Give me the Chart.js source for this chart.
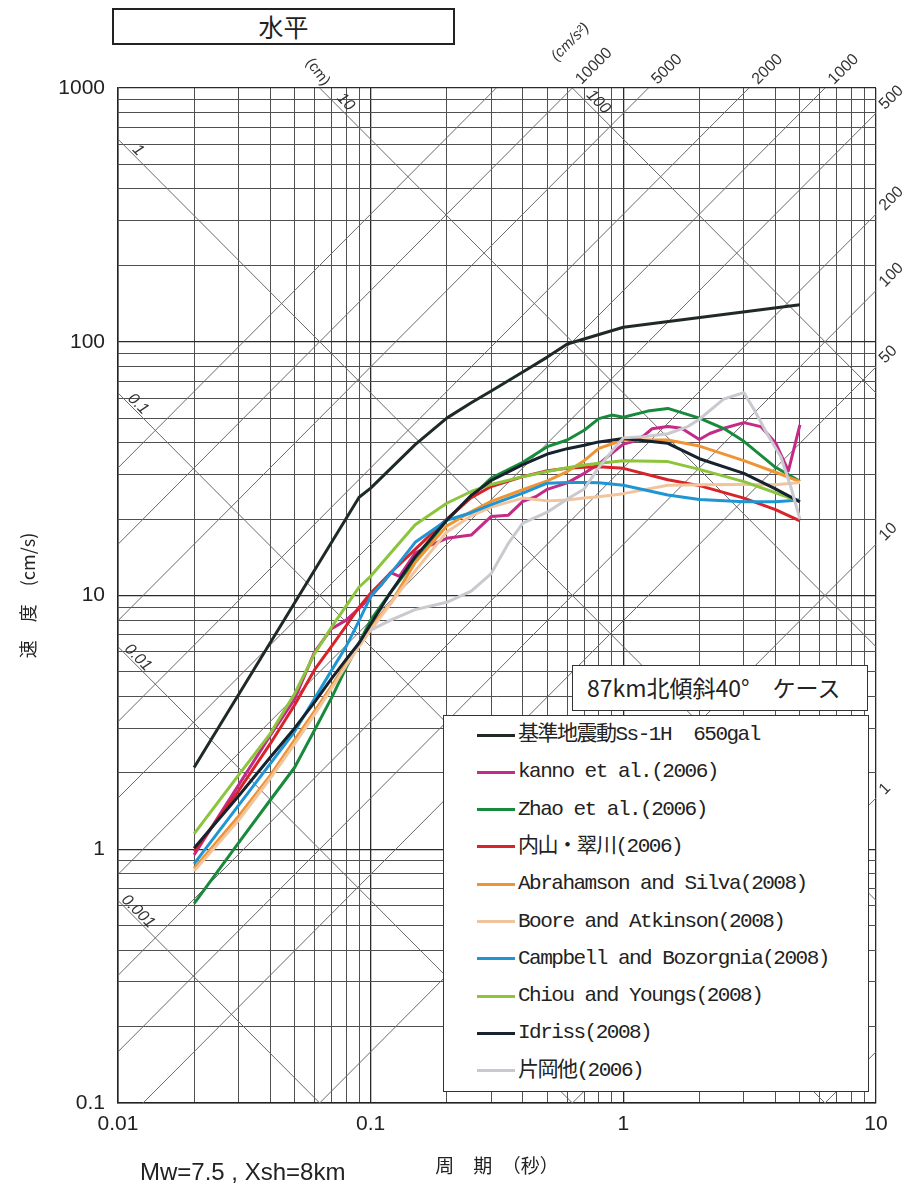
<!DOCTYPE html>
<html>
<head>
<meta charset="utf-8">
<script src="https://cdn.jsdelivr.net/npm/chart.js@4.4.0/dist/chart.umd.min.js"></script>
<style>
  body { margin: 0; background: #fff; }
  #wrap { position: relative; width: 909px; height: 1189px; overflow: hidden; }
  #chart { position: absolute; left: 0; top: 0; background: #fff; }
  .box { position: absolute; background: #fff; box-sizing: border-box; color: #222; }
  #head { left: 112px; top: 8px; width: 343px; height: 37px; border: 2px solid #222;
          font: 25px "Noto Sans CJK JP", sans-serif; text-align: center; line-height: 32px; }
  #caseBox { left: 572px; top: 665px; width: 296px; height: 46px; border: 1.5px solid #333;
             font: 23px "Noto Sans CJK JP", sans-serif; line-height: 42px; padding-left: 14px; white-space: pre; }
  #legend { left: 443px; top: 715px; width: 426px; height: 377px; border: 1.5px solid #333; }
  .row { position: absolute; left: 0; height: 26px; display: flex; align-items: center; }
  .swatch { margin-left: 33px; width: 38px; height: 3px; flex: none; }
  .lbl { margin-left: 3px; font: 21px "Liberation Mono", "Noto Sans CJK JP", monospace; line-height: 26px;
         height: 26px; letter-spacing: -1.5px; white-space: pre; color: #222; }
  #note { position: absolute; left: 140px; top: 1158px;
          font: 24px "Liberation Sans Narrow", "Liberation Sans", sans-serif; color: #222; }
</style>
</head>
<body>
<div id="wrap">
  <canvas id="chart" width="909" height="1189"></canvas>
  <div class="box" id="head">水平</div>
  <div class="box" id="caseBox">87km北傾斜40°　ケース</div>
  <div class="box" id="legend"></div>
  <div id="note">Mw=7.5 , Xsh=8km</div>
</div>
<script>
// 周期 (s) と速度 (cm/s)
const periods = [0.02, 0.03, 0.04, 0.05, 0.06, 0.07, 0.08, 0.09, 0.1, 0.12, 0.15, 0.2, 0.25, 0.3, 0.4, 0.5, 0.6, 0.7, 0.8, 1.0, 1.5, 2, 3, 4, 5];

const ssT = [0.02, 0.09, 0.1, 0.15, 0.2, 0.25, 0.3, 0.4, 0.5, 0.6, 1.0, 5.0];
const ssV = [2.1, 24.4, 26.5, 39.3, 50.0, 57.5, 64.0, 76.0, 87.0, 98.0, 114.0, 140.0];

const kannoT = [0.02, 0.03, 0.04, 0.05, 0.06, 0.07, 0.08, 0.09, 0.1, 0.11, 0.12, 0.13, 0.15, 0.17, 0.2, 0.25, 0.3, 0.35, 0.4, 0.45, 0.5, 0.6, 0.7, 0.8, 0.9, 1.0, 1.1, 1.2, 1.3, 1.5, 1.7, 2.0, 2.2, 2.5, 3.0, 3.5, 4.0, 4.5, 5.0];
const kannoV = [0.95, 1.79, 2.8, 3.9, 6.0, 7.4, 8.0, 8.9, 9.9, 11.0, 12.3, 11.9, 14.7, 15.7, 16.8, 17.3, 20.5, 20.7, 23.5, 24.5, 26.2, 27.8, 30.3, 33.0, 36.3, 39.5, 40.5, 42.5, 45.4, 46.3, 45.6, 41.2, 43.5, 45.6, 48.0, 46.3, 40.0, 31.0, 47.0];

const zhaoT = [0.02, 0.03, 0.04, 0.05, 0.06, 0.07, 0.08, 0.09, 0.1, 0.12, 0.15, 0.2, 0.25, 0.3, 0.4, 0.5, 0.6, 0.7, 0.8, 0.9, 1.0, 1.25, 1.5, 2, 2.5, 3, 4, 5];
const zhaoV = [0.61, 1.06, 1.56, 2.1, 2.95, 3.95, 5.2, 6.5, 8.0, 10.3, 13.8, 19.8, 24.5, 29.0, 33.5, 38.6, 41.0, 44.8, 49.8, 51.4, 50.4, 53.3, 54.6, 50.0, 45.5, 40.5, 32.0, 28.2];

const uchiyamaV = [0.98, 1.7, 2.6, 3.7, 5.1, 6.3, 7.6, 9.0, 10.2, 12.3, 15.2, 20.0, 24.3, 26.9, 29.4, 31.0, 31.7, 32.0, 32.2, 31.7, 28.6, 27.1, 24.2, 21.8, 19.7];
const abrahamsonV = [0.84, 1.35, 1.95, 2.7, 3.5, 4.4, 5.4, 6.5, 7.6, 9.3, 13.5, 18.8, 21.4, 23.5, 26.1, 28.3, 30.8, 34.0, 38.0, 41.0, 41.0, 38.8, 34.0, 30.6, 28.1];
const booreV = [0.82, 1.3, 1.9, 2.6, 3.4, 4.3, 5.3, 6.3, 7.3, 9.3, 12.5, 17.8, 20.6, 22.3, 24.2, 23.6, 23.8, 24.2, 24.5, 25.2, 27.2, 27.3, 27.4, 27.3, 27.9];
const campbellV = [0.875, 1.49, 2.17, 2.91, 3.93, 5.07, 6.3, 7.96, 9.9, 12.2, 16.2, 19.8, 21.2, 22.8, 25.3, 27.7, 27.9, 27.9, 27.8, 27.2, 24.9, 23.9, 23.4, 23.4, 23.8];
const chiouV = [1.15, 1.96, 2.85, 4.1, 5.9, 7.5, 9.1, 10.8, 11.9, 14.7, 19.0, 23.1, 25.7, 27.4, 29.4, 30.8, 31.9, 32.7, 33.2, 34.0, 33.7, 31.4, 28.1, 25.4, 23.5];
const idrissV = [1.01, 1.62, 2.3, 3.0, 3.8, 4.7, 5.6, 6.5, 7.7, 10.3, 14.2, 19.8, 24.8, 28.4, 32.8, 36.1, 37.9, 39.1, 40.3, 41.6, 39.8, 34.6, 30.3, 26.3, 23.4];

const kataokaT = [0.1, 0.12, 0.15, 0.2, 0.25, 0.3, 0.35, 0.4, 0.5, 0.6, 0.7, 0.8, 0.9, 1.0, 1.2, 1.5, 1.8, 2.0, 2.5, 3.0, 3.3, 3.7, 4.2, 4.6, 5.0];
const kataokaV = [7.3, 8.0, 8.8, 9.4, 10.4, 12.2, 16.0, 19.3, 21.3, 24.0, 26.3, 32.0, 37.0, 41.8, 42.2, 43.4, 46.3, 49.5, 59.5, 63.0, 53.8, 43.5, 35.2, 26.8, 20.0];

const seriesLabels = ['基準地震動Ss-1H  650gal', 'kanno et al.(2006)', 'Zhao et al.(2006)', '内山・翠川(2006)',
  'Abrahamson and Silva(2008)', 'Boore and Atkinson(2008)', 'Campbell and Bozorgnia(2008)',
  'Chiou and Youngs(2008)', 'Idriss(2008)', '片岡他(2006)'];
const seriesColors = ['#1f2a26', '#c42a86', '#178a3c', '#d8232a', '#ef9434', '#f2c49c', '#1f96d4', '#8cc43c', '#16222e', '#c9c9cf'];

// 軸の目盛
const xTickLabels = ['0.01', '0.1', '1', '10'];
const yTickLabels = ['0.1', '1', '10', '100', '1000'];

// 三軸線図 (変位 cm, 加速度 cm/s2)
const dispLines = [0.001, 0.01, 0.1, 1, 10, 100];
const dispLeftLabels = ['1', '0.1', '0.01', '0.001'];
const dispTopLabels = ['10', '100'];
const accLines = [0.1, 1, 10, 50, 100, 200, 500, 1000, 2000, 5000, 10000, 20000];
const accTopLabels = ['10000', '5000', '2000', '1000'];
const accRightLabels = ['500', '200', '100', '50', '10', '1'];

const pts = (ts, vs) => ts.map((t, i) => ({ x: t, y: vs[i] }));
const seriesData = [
  pts(ssT, ssV), pts(kannoT, kannoV), pts(zhaoT, zhaoV), pts(periods, uchiyamaV),
  pts(periods, abrahamsonV), pts(periods, booreV), pts(periods, campbellV),
  pts(periods, chiouV), pts(periods, idrissV), pts(kataokaT, kataokaV)
];

const isDecade = v => Math.abs(Math.log10(v) - Math.round(Math.log10(v))) < 1e-6;
const logTicks = (lo, hi) => {
  const out = [];
  for (let e = Math.round(Math.log10(lo)); e < Math.round(Math.log10(hi)); e++) {
    for (let m = 1; m <= 9; m++) out.push({ value: m * Math.pow(10, e) });
  }
  out.push({ value: hi });
  return out;
};
const findLabel = (list, v) => list.find(s => Math.abs(Number(s) - v) / v < 1e-6);

const tripartite = {
  id: 'tripartite',
  beforeDatasetsDraw(chart) {
    const { ctx, chartArea: a, scales: { x, y } } = chart;
    const t0 = x.min, t1 = x.max;
    ctx.save();
    ctx.beginPath();
    ctx.rect(a.left, a.top, a.right - a.left, a.bottom - a.top);
    ctx.clip();
    ctx.strokeStyle = '#6a6a6a';
    ctx.lineWidth = 1;
    const seg = (v0, v1) => {
      ctx.beginPath();
      ctx.moveTo(x.getPixelForValue(t0), y.getPixelForValue(v0));
      ctx.lineTo(x.getPixelForValue(t1), y.getPixelForValue(v1));
      ctx.stroke();
    };
    dispLines.forEach(d => seg(2 * Math.PI * d / t0, 2 * Math.PI * d / t1));
    accLines.forEach(g => seg(g * t0 / (2 * Math.PI), g * t1 / (2 * Math.PI)));
    ctx.restore();
  },
  afterDraw(chart) {
    const { ctx, chartArea: a, scales: { x, y } } = chart;
    const vTop = y.max, tL = x.min, tR = x.max;
    ctx.save();
    ctx.fillStyle = '#333';
    const put = (text, cx, cy, ang, align, font) => {
      ctx.save();
      ctx.translate(cx, cy);
      ctx.rotate(ang);
      ctx.font = font;
      ctx.textAlign = align;
      ctx.textBaseline = 'middle';
      ctx.fillText(text, 0, 0);
      ctx.restore();
    };
    const fD = 'italic 16px "Liberation Sans", sans-serif';
    const fA = '16px "Liberation Sans", sans-serif';
    dispLeftLabels.forEach(s => {
      const py = y.getPixelForValue(2 * Math.PI * Number(s) / tL);
      put(s, a.left + 20, py + 11, Math.PI / 4, 'center', fD);
    });
    dispTopLabels.forEach(s => {
      const px = x.getPixelForValue(2 * Math.PI * Number(s) / vTop);
      put(s, px + 26, a.top + 14, Math.PI / 4, 'center', fD);
    });
    accTopLabels.forEach(s => {
      const px = x.getPixelForValue(2 * Math.PI * vTop / Number(s));
      put(s, px + 6, a.top - 6, -Math.PI / 4, 'left', fA);
    });
    accRightLabels.forEach(s => {
      const py = y.getPixelForValue(Number(s) * tR / (2 * Math.PI));
      put(s, a.right + 6, py - 6, -Math.PI / 4, 'left', fA);
    });
    const px10 = x.getPixelForValue(2 * Math.PI * 10 / vTop);
    put('(cm)', px10 - 2, a.top - 16, Math.PI / 3.4, 'center', '15px "Liberation Sans", sans-serif');
    const px1e4 = x.getPixelForValue(2 * Math.PI * vTop / 10000);
    put('(cm/s²)', px1e4 - 2, a.top - 46, -Math.PI / 4, 'center', 'italic 15px "Liberation Sans", sans-serif');
    ctx.restore();
  }
};

const tickFont = { family: '"Liberation Sans Narrow", "Liberation Sans", sans-serif', size: 21 };
const gridOpts = {
  color: c => isDecade(c.tick.value) ? '#2a2a2a' : '#505050',
  lineWidth: c => isDecade(c.tick.value) ? 1.3 : 1,
  drawTicks: false
};

const n = seriesLabels.length;
const chart = new Chart(document.getElementById('chart').getContext('2d'), {
  type: 'line',
  data: {
    datasets: seriesLabels.map((lab, i) => ({
      label: lab,
      data: seriesData[i],
      borderColor: seriesColors[i],
      backgroundColor: seriesColors[i],
      borderWidth: 3,
      pointRadius: 0,
      tension: 0,
      fill: false,
      borderJoinStyle: 'round',
      order: n - i
    }))
  },
  options: {
    responsive: false,
    animation: false,
    layout: { padding: { left: 0, top: 88, right: 33, bottom: 0 } },
    plugins: { legend: { display: false }, tooltip: { enabled: false } },
    scales: {
      x: {
        type: 'logarithmic', min: 0.01, max: 10,
        afterBuildTicks: s => { s.ticks = logTicks(0.01, 10); },
        afterFit: s => { s.height = 86; },
        ticks: { autoSkip: false, maxRotation: 0, padding: 9, color: '#222', font: tickFont,
                 callback: v => isDecade(v) ? findLabel(xTickLabels, v) : '' },
        grid: gridOpts,
        border: { color: '#222', width: 1.5 },
        title: { display: true, text: '周　期　（秒）', color: '#222',
                 font: { family: '"Noto Sans CJK JP", sans-serif', size: 19 }, padding: { top: 0, bottom: 12 } }
      },
      y: {
        type: 'logarithmic', min: 0.1, max: 1000,
        afterBuildTicks: s => { s.ticks = logTicks(0.1, 1000); },
        afterFit: s => { s.width = 118; },
        ticks: { autoSkip: false, padding: 13, color: '#222', font: tickFont,
                 callback: v => isDecade(v) ? findLabel(yTickLabels, v) : '' },
        grid: gridOpts,
        border: { color: '#222', width: 1.5 },
        title: { display: true, text: '速　度　(cm/s)', color: '#222',
                 font: { family: '"Noto Sans CJK JP", sans-serif', size: 18 }, padding: { top: 17, bottom: 0 } }
      }
    }
  },
  plugins: [tripartite]
});

// 凡例
const legend = document.getElementById('legend');
chart.data.datasets.forEach((ds, i) => {
  const row = document.createElement('div');
  row.className = 'row';
  row.style.top = (19 + i * 37.3 - 13) + 'px';
  const sw = document.createElement('span');
  sw.className = 'swatch';
  sw.style.background = ds.borderColor;
  const lb = document.createElement('span');
  lb.className = 'lbl';
  lb.textContent = ds.label;
  row.appendChild(sw);
  row.appendChild(lb);
  legend.appendChild(row);
});
</script>
</body>
</html>
